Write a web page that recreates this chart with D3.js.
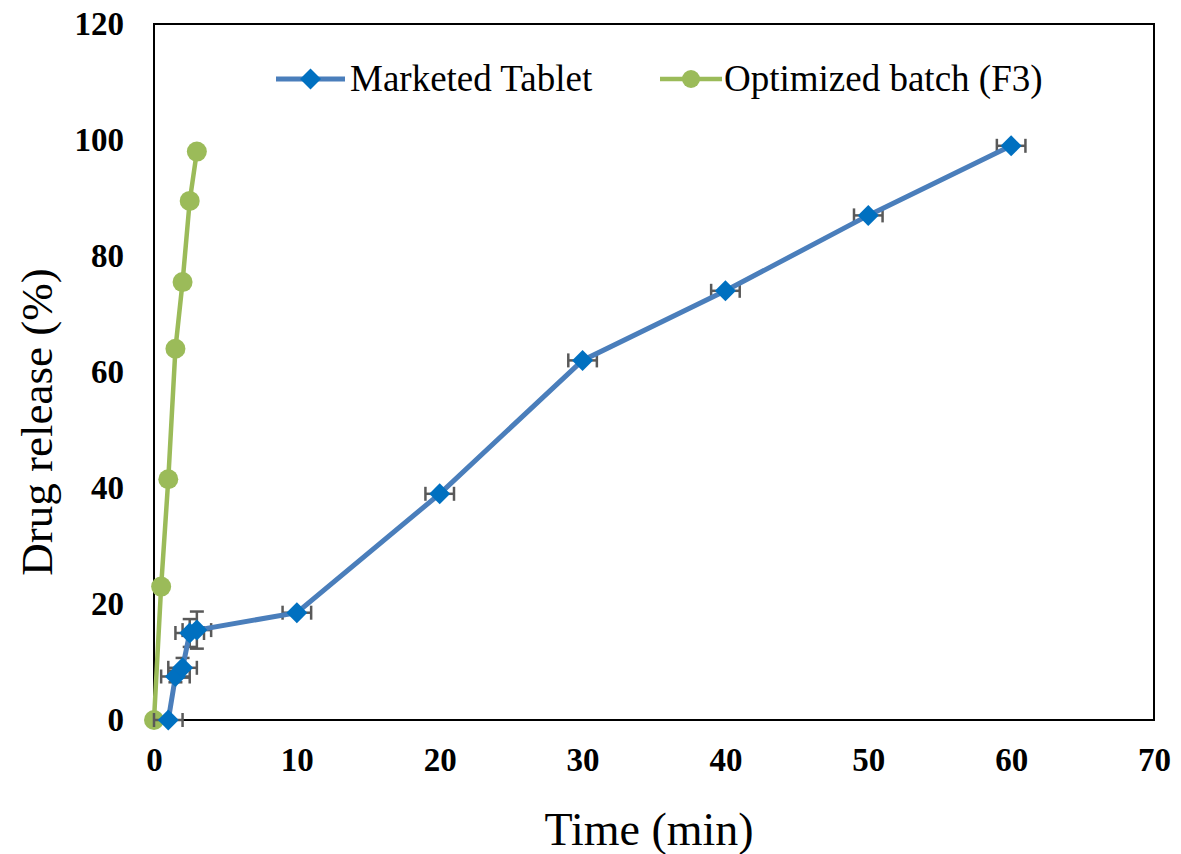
<!DOCTYPE html>
<html lang="en">
<head>
    <meta charset="UTF-8">
    <title>Drug release profile</title>
    <script src="https://d3js.org/d3.v7.min.js"></script>
    <style>
        body { margin: 0; background: white; font-family: "Liberation Serif", "Times New Roman", serif; }
    </style>
</head>
<body>
    <script>
        // Data
        const timeMarketed = [1, 1.5, 2, 2.5, 3, 10, 20, 30, 40, 50, 60];
        const releaseMarketed = [0, 7.5, 9, 15, 15.5, 18.5, 39, 62, 74, 87, 99];
        const xErrMarketed = [1, 1, 1, 1, 1, 1, 1, 1, 1, 1, 1];
        const yErrMarketed = [0, 1, 1.7, 2.4, 3.2, 0, 0, 0, 0, 0, 0];

        const timeOptimized = [0, 0.5, 1, 1.5, 2, 2.5, 3];
        const releaseOptimized = [0, 23, 41.5, 64, 75.5, 89.5, 98];

        const xTicks = [0, 10, 20, 30, 40, 50, 60, 70];
        const yTicks = [0, 20, 40, 60, 80, 100, 120];
        const seriesNames = ["Marketed Tablet", "Optimized batch (F3)"];

        const W = 1181, H = 854;
        const margin = { top: 24, right: 27, bottom: 134, left: 154 },
              width = W - margin.left - margin.right,
              height = H - margin.top - margin.bottom;

        const svg = d3.select("body").append("svg")
            .attr("width", W)
            .attr("height", H);

        const g = svg.append("g")
            .attr("transform", `translate(${margin.left},${margin.top})`);

        const x = d3.scaleLinear().domain([0, 70]).range([0, width]);
        const y = d3.scaleLinear().domain([0, 120]).range([height, 0]);

        const blueLine = "#4a7ebb", blueMark = "#0070c0", green = "#9bbb59", errColor = "#595959";

        // Axes (labels only, no tick marks)
        const xAxis = g.append("g")
            .attr("transform", `translate(0,${height})`)
            .call(d3.axisBottom(x).tickValues(xTicks).tickSize(0).tickPadding(28));
        xAxis.select(".domain").remove();
        xAxis.selectAll("text")
            .attr("font-family", "Liberation Serif")
            .attr("font-weight", "bold")
            .attr("font-size", 33)
            .attr("fill", "#000");

        const yAxis = g.append("g")
            .call(d3.axisLeft(y).tickValues(yTicks).tickSize(0).tickPadding(30));
        yAxis.select(".domain").remove();
        yAxis.selectAll("text")
            .attr("font-family", "Liberation Serif")
            .attr("font-weight", "bold")
            .attr("font-size", 33)
            .attr("fill", "#000");

        // Plot border
        g.append("rect")
            .attr("x", 0).attr("y", 0)
            .attr("width", width).attr("height", height)
            .attr("fill", "none")
            .attr("stroke", "#000")
            .attr("stroke-width", 2);

        // Optimized batch series
        const optData = timeOptimized.map((t, i) => ({ t, v: releaseOptimized[i] }));
        const line = d3.line().x(d => x(d.t)).y(d => y(d.v));

        g.append("path")
            .datum(optData)
            .attr("d", line)
            .attr("fill", "none")
            .attr("stroke", green)
            .attr("stroke-width", 4.5);

        g.selectAll(".opt-dot")
            .data(optData)
            .enter().append("circle")
            .attr("class", "opt-dot")
            .attr("cx", d => x(d.t))
            .attr("cy", d => y(d.v))
            .attr("r", 10)
            .attr("fill", green);

        // Marketed tablet series
        const mktData = timeMarketed.map((t, i) => ({
            t, v: releaseMarketed[i], ex: xErrMarketed[i], ey: yErrMarketed[i]
        }));

        // Error bars
        const err = g.append("g")
            .attr("stroke", errColor)
            .attr("stroke-width", 2.5)
            .attr("fill", "none");
        const cap = 7;
        mktData.forEach(d => {
            const cx = x(d.t), cy = y(d.v);
            const x0 = Math.max(x(d.t - d.ex), 0), x1 = x(d.t + d.ex);
            err.append("line").attr("x1", x0).attr("x2", x1).attr("y1", cy).attr("y2", cy);
            if (d.t - d.ex >= 0) err.append("line").attr("x1", x0).attr("x2", x0).attr("y1", cy - cap).attr("y2", cy + cap);
            err.append("line").attr("x1", x1).attr("x2", x1).attr("y1", cy - cap).attr("y2", cy + cap);
            if (d.ey > 0) {
                const y0 = y(d.v - d.ey), y1 = y(d.v + d.ey);
                err.append("line").attr("x1", cx).attr("x2", cx).attr("y1", y0).attr("y2", y1);
                err.append("line").attr("x1", cx - cap).attr("x2", cx + cap).attr("y1", y0).attr("y2", y0);
                err.append("line").attr("x1", cx - cap).attr("x2", cx + cap).attr("y1", y1).attr("y2", y1);
            }
        });

        g.append("path")
            .datum(mktData)
            .attr("d", line)
            .attr("fill", "none")
            .attr("stroke", blueLine)
            .attr("stroke-width", 5);

        const diamond = d3.symbol().type(d3.symbolDiamond2).size(280);
        g.selectAll(".mkt-dot")
            .data(mktData)
            .enter().append("path")
            .attr("class", "mkt-dot")
            .attr("transform", d => `translate(${x(d.t)},${y(d.v)})`)
            .attr("d", diamond)
            .attr("fill", blueMark);

        // Legend
        const legend = svg.append("g").attr("transform", "translate(276,79)");
        const lg1 = legend.append("g");
        lg1.append("line").attr("x1", 0).attr("x2", 69).attr("y1", 0).attr("y2", 0)
            .attr("stroke", blueLine).attr("stroke-width", 5);
        lg1.append("path").attr("transform", "translate(34.5,0)").attr("d", diamond).attr("fill", blueMark);
        lg1.append("text").attr("x", 74).attr("y", 12)
            .attr("font-size", 37).attr("fill", "#000")
            .text(seriesNames[0]);

        const lg2 = legend.append("g").attr("transform", "translate(384,0)");
        lg2.append("line").attr("x1", 0).attr("x2", 62).attr("y1", 0).attr("y2", 0)
            .attr("stroke", green).attr("stroke-width", 4.5);
        lg2.append("circle").attr("cx", 31).attr("cy", 0).attr("r", 9).attr("fill", green);
        lg2.append("text").attr("x", 64).attr("y", 12)
            .attr("font-size", 37).attr("fill", "#000")
            .text(seriesNames[1]);

        // Axis titles
        svg.append("text")
            .attr("x", margin.left + width / 2 - 5)
            .attr("y", 845)
            .attr("text-anchor", "middle")
            .attr("font-size", 46)
            .text("Time (min)");

        svg.append("text")
            .attr("transform", `translate(52,${margin.top + height / 2 + 50}) rotate(-90)`)
            .attr("text-anchor", "middle")
            .attr("font-size", 45)
            .text("Drug release (%)");
    </script>
</body>
</html>
